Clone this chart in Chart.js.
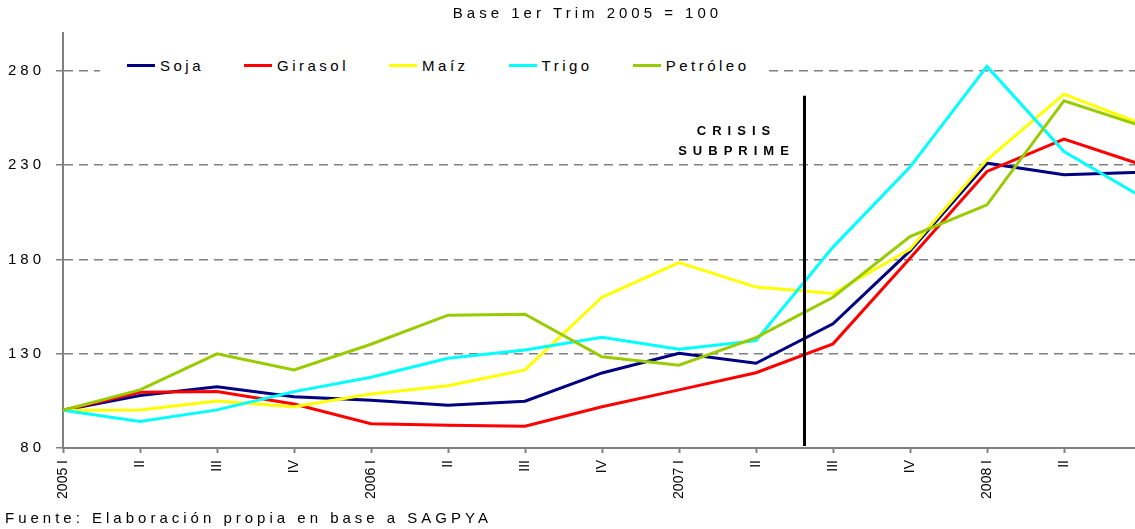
<!DOCTYPE html>
<html>
<head>
<meta charset="utf-8">
<script src="https://cdn.jsdelivr.net/npm/chart.js@4/dist/chart.umd.min.js"></script>
<style>
  html, body { margin: 0; padding: 0; background: #fff; overflow: hidden; }
  #wrap { position: relative; width: 1135px; height: 529px; overflow: hidden; }
  #chart { display: block; }
  #legend {
    position: absolute; left: 100px; top: 53px;
    display: flex; align-items: center; gap: 40px;
    padding: 4px 16px 4px 27px; background: #fff;
    font: 15px "Liberation Sans", Arial, sans-serif; line-height: 18px;
    letter-spacing: 3.5px; color: #000; white-space: nowrap;
  }
  #legend .item { display: flex; align-items: center; }
  #legend .swatch { width: 28px; height: 3px; margin-right: 5px; position: relative; top: -1px; }
</style>
</head>
<body>
<div id="wrap">
  <canvas id="chart" width="1170" height="529"></canvas>
  <div id="legend"></div>
</div>
<script>
const categories = ['2005 I', 'II', 'III', 'IV', '2006 I', 'II', 'III', 'IV',
                    '2007 I', 'II', 'III', 'IV', '2008 I', 'II', 'III'];

const soja     = [100, 107.8, 112.5, 107.2, 105.3, 102.6, 104.8, 119.8, 130.2, 124.9, 145.8, 184.5, 231.0, 224.8, 226.2];
const girasol  = [100, 109.5, 109.9, 103.3, 92.9, 92.0, 91.5, 101.9, 110.8, 119.9, 135.2, 180.6, 226.6, 243.8, 230.3];
const maiz     = [100, 100.2, 104.9, 101.9, 108.6, 113.0, 121.4, 159.9, 178.3, 165.3, 161.9, 185.4, 232.8, 267.6, 251.9];
const trigo    = [100, 94.0, 100.2, 109.9, 117.5, 127.6, 132.0, 138.7, 132.4, 136.9, 186.5, 228.9, 282.3, 237.2, 213.3];
const petroleo = [100, 110.8, 129.9, 121.4, 135.0, 150.4, 150.9, 128.4, 123.9, 138.5, 159.9, 192.1, 208.9, 264.1, 250.8];

const seriesNames  = ['Soja', 'Girasol', 'Maíz', 'Trigo', 'Petróleo'];
const seriesColors = ['#000080', '#FF0000', '#FFFF00', '#00FFFF', '#99CC00'];
const seriesValues = [soja, girasol, maiz, trigo, petroleo];

const yTicks = [80, 130, 180, 230, 280];

// crisis marker sits between 2007 II and 2007 III
const crisisAt = 9.63;
const crisisTop = 266.7;

const family = '"Liberation Sans", Arial, sans-serif';

// letter-spaced text everywhere except the rotated quarter labels
const spacing = {
  id: 'spacing',
  beforeUpdate(chart) { chart.ctx.letterSpacing = '4px'; },
  beforeLayout(chart) {
    chart.ctx.letterSpacing = '4px';
    const xs = chart.scales.x;
    if (xs && !xs._plain) {
      const draw = xs.drawLabels;
      xs.drawLabels = function (area) {
        const ctx = this.ctx;
        const prev = ctx.letterSpacing;
        ctx.letterSpacing = '0px';
        draw.call(this, area);
        ctx.letterSpacing = prev;
      };
      xs._plain = true;
    }
  },
  beforeDraw(chart) { chart.ctx.letterSpacing = '4px'; }
};

const crisis = {
  id: 'crisis',
  afterDatasetsDraw(chart) {
    const { ctx, chartArea } = chart;
    const x = chart.scales.x, y = chart.scales.y;
    const px = x.getPixelForValue(crisisAt);
    const top = y.getPixelForValue(crisisTop);
    ctx.save();
    ctx.strokeStyle = '#000';
    ctx.lineWidth = 3;
    ctx.beginPath();
    ctx.moveTo(px, top);
    ctx.lineTo(px, chartArea.bottom - 2);
    ctx.stroke();
    ctx.font = 'bold 13px ' + family;
    ctx.letterSpacing = '6px';
    ctx.fillStyle = '#000';
    ctx.textAlign = 'center';
    ctx.textBaseline = 'middle';
    ctx.fillText('CRISIS', px - 68, top + 36);
    ctx.fillText('SUBPRIME', px - 68, top + 56);
    ctx.restore();
  }
};

new Chart(document.getElementById('chart'), {
  type: 'line',
  data: {
    labels: categories,
    datasets: seriesNames.map((name, i) => ({
      label: name,
      data: seriesValues[i],
      borderColor: seriesColors[i],
      backgroundColor: seriesColors[i],
      borderWidth: 3,
      pointRadius: 0,
      tension: 0,
      order: seriesNames.length - i
    }))
  },
  options: {
    responsive: false,
    animation: false,
    layout: { padding: { left: 5, right: 0, top: 0, bottom: 0 } },
    plugins: {
      legend: { display: false },
      tooltip: { enabled: false },
      title: {
        display: true,
        text: 'Base 1er Trim 2005 = 100',
        color: '#000',
        font: { family: family, size: 15, weight: 'normal' },
        padding: { top: 5, bottom: 10 }
      },
      subtitle: {
        display: true,
        position: 'bottom',
        align: 'start',
        text: 'Fuente: Elaboración propia en base a SAGPYA',
        color: '#000',
        font: { family: family, size: 15, weight: 'normal' },
        padding: { top: 4, bottom: 1 }
      }
    },
    scales: {
      x: {
        grid: { drawOnChartArea: false, drawTicks: true, tickLength: 5, tickColor: '#808080', tickWidth: 2 },
        border: { color: '#808080', width: 2 },
        ticks: {
          color: '#000',
          font: { family: family, size: 14 },
          maxRotation: 90,
          minRotation: 90,
          autoSkip: false,
          padding: 7
        },
        // the original plot runs a little past the right edge of the picture
        afterFit(s) { s.height = 58; s.paddingLeft = 0; s.paddingRight = 29; }
      },
      y: {
        min: 80,
        max: 300,
        afterBuildTicks(s) { s.ticks = yTicks.map(v => ({ value: v })); },
        grid: { color: '#808080', lineWidth: 1.5, tickLength: 7, tickColor: '#808080', tickWidth: 1.5 },
        border: { color: '#808080', width: 2, dash: [9, 6] },
        ticks: { color: '#000', font: { family: family, size: 15 }, padding: 11 },
        afterFit(s) { s.width = 58; }
      }
    }
  },
  plugins: [spacing, crisis]
});

// legend drawn as html so it can sit inside the plot like the original
const legendEl = document.getElementById('legend');
seriesNames.forEach((name, i) => {
  const item = document.createElement('span');
  item.className = 'item';
  const sw = document.createElement('span');
  sw.className = 'swatch';
  sw.style.background = seriesColors[i];
  const label = document.createElement('span');
  label.textContent = name;
  item.appendChild(sw);
  item.appendChild(label);
  legendEl.appendChild(item);
});
</script>
</body>
</html>
